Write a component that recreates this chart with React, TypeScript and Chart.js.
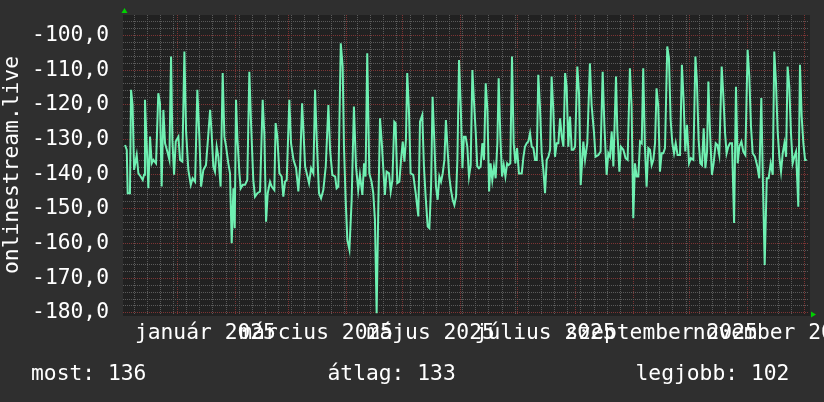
import React, { useEffect, useRef } from 'react';
import { Chart, registerables } from 'chart.js';

Chart.register(...registerables);

// days counted from 2024-12-01 (day 31 = 2025-01-01)
const dayOffsets: number[] = [
  3.2, 4.1, 4.6, 5.8, 6.4, 7.2, 8.0, 9.4, 10.3, 11.5,
  12.6, 13.3, 13.8, 14.7, 15.6, 16.5, 17.4, 18.3, 19.7, 20.9,
  21.8, 22.7, 23.6, 24.5, 25.7, 26.8, 27.7, 28.4, 29.3, 30.2,
  31.6, 32.5, 33.7, 34.8, 35.7, 36.9, 38.2, 39.2, 40.5, 41.7,
  42.8, 43.7, 44.9, 46.3, 47.6, 48.5, 49.3, 50.2, 51.1, 52.0,
  52.9, 54.1, 55.2, 56.1, 57.0, 58.2, 59.1, 60.0, 60.9, 61.6,
  62.3, 63.0, 64.1, 64.8, 65.9, 67.1, 68.3, 69.4, 70.3, 71.5,
  72.4, 73.7, 75.1, 76.5, 77.4, 78.3, 79.2, 80.4, 81.3, 82.7,
  83.4, 84.3, 85.4, 86.6, 87.5, 88.4, 89.3, 90.7, 91.6, 92.9,
  94.3, 95.5, 96.4, 97.5, 98.2, 99.1, 100.0, 101.2, 102.3, 103.5,
  104.4, 105.3, 106.5, 107.6, 108.8, 110.1, 111.5, 112.4, 113.6, 115.1,
  115.9, 116.8, 118.1, 119.1, 119.8, 120.7, 121.6, 122.7,
  123.9, 125.1, 126.2, 127.4, 128.3, 129.6, 130.5, 131.3, 132.2, 133.3,
  134.5, 135.4, 136.3, 137.2, 138.1, 139.0, 139.9, 140.8, 141.6, 142.5,
  143.8, 144.7, 145.6, 146.6, 147.3, 148.2, 149.3, 150.2, 151.1, 152.0,
  152.8, 153.5, 154.4, 155.3, 156.7, 158.0, 159.4, 160.3, 161.5, 162.4,
  163.3, 164.4, 165.3, 166.2, 167.0, 167.9, 168.8, 169.7, 170.6, 171.5,
  172.4, 173.3, 174.1, 175.0, 175.9, 176.8, 177.7, 178.6, 179.5, 180.2,
  181.1, 182.0, 182.9, 183.7, 184.6, 185.5, 186.4, 187.3, 188.2, 189.1,
  190.0, 190.8, 191.7, 192.6, 193.5, 194.4, 195.3, 196.2, 197.1, 197.9,
  198.8, 199.7, 200.6, 201.5, 202.2, 203.1, 204.0, 204.9, 205.8, 206.7,
  207.5, 208.4, 209.3, 210.2, 211.1, 212.0, 213.0, 214.5, 215.4, 216.2,
  217.1, 218.0, 218.9, 219.8, 220.7, 221.6, 222.5, 223.3, 224.2, 225.1,
  226.0, 226.9, 227.8, 228.7, 229.6, 230.4, 231.3, 232.2, 233.1, 234.0,
  234.9, 235.8, 236.7, 237.6, 238.4, 239.3, 240.2, 241.1, 242.0, 242.9,
  244.1, 245.0, 245.9,
  247.3, 248.2, 249.4, 250.8, 251.7, 253.0, 253.8, 255.3, 256.5, 257.6,
  258.5, 259.7, 260.6, 261.5, 262.4, 263.3, 264.7, 265.4, 266.5, 267.3,
  268.6, 269.8, 270.9, 272.1, 273.0, 273.9, 274.8, 275.7, 276.6, 277.5,
  278.4, 279.2, 280.1, 281.0, 281.9, 282.8, 283.7, 284.6, 285.5, 286.3,
  287.2, 288.1, 289.0, 289.9, 290.8, 292.0, 292.9, 293.8, 294.7, 295.6,
  296.5, 297.5, 298.8, 299.8, 300.7, 301.6, 302.5, 303.6, 304.6, 305.9,
  307.0, 307.8, 308.7, 309.6, 310.5, 311.4, 312.3, 313.2, 313.9, 314.8,
  315.8, 316.7, 317.8, 318.7, 319.7, 321.0, 321.9, 322.8, 323.6, 324.5,
  325.4, 326.5, 327.6, 328.6, 329.5, 330.4, 331.5, 332.5, 333.6, 334.8,
  335.7, 336.6, 337.5, 338.7, 340.0, 341.0, 342.1, 343.0, 343.9, 345.0,
  346.0, 347.1, 348.2, 349.0, 349.9, 350.8, 351.7, 352.6, 353.5, 354.4,
  355.3, 356.1, 357.0, 357.9, 358.8, 359.7, 360.6, 361.8, 362.7, 363.6,
  364.5, 365.4, 366.3,
];

// plotted value (negative rank)
const rankValues: number[] = [
  -131.6, -133.0, -145.5, -145.5, -115.7, -120.1, -138.8, -134.5, -139.8, -140.7,
  -141.7, -140.2, -118.6, -131.1, -144.1, -129.2, -136.9, -135.9, -136.9, -116.7,
  -119.6, -143.6, -121.5, -131.1, -133.5, -135.9, -106.1, -130.1, -140.2, -130.6,
  -129.2, -135.9, -136.4, -104.7, -127.7, -138.8, -143.1, -141.2, -142.2, -115.7,
  -129.7, -143.6, -138.8, -137.4, -128.2, -121.5, -128.2, -137.8, -139.3, -132.1,
  -135.0, -143.6, -110.9, -129.2, -132.1, -136.9, -139.8, -159.9, -144.1, -155.6,
  -118.6, -129.2, -139.8, -144.1, -143.1, -143.1, -141.7, -110.5, -125.3, -141.7,
  -146.5, -145.5, -145.0, -118.6, -128.7, -153.7, -145.5, -142.2, -143.6, -144.6,
  -125.3, -129.2, -139.8, -140.7, -146.5, -142.2, -141.7, -118.6, -131.1, -135.9,
  -138.3, -145.0, -137.8, -119.6, -127.3, -137.8, -139.8, -142.6, -138.3, -139.8,
  -115.7, -130.1, -145.5, -147.0, -144.6, -137.8, -120.1, -133.0, -140.2, -140.7,
  -144.1, -143.6, -102.3, -109.0, -132.1, -147.4, -159.0, -161.8,
  -147.4, -120.5, -137.8, -144.6, -140.2, -146.0, -136.9, -140.7, -105.2, -139.8,
  -142.2, -145.5, -153.2, -180.1, -149.4, -123.9, -130.6, -138.8, -146.0, -139.3,
  -139.8, -145.0, -141.7, -124.9, -125.3, -142.6, -142.2, -135.9, -130.6, -136.4,
  -130.1, -110.9, -121.5, -139.8, -140.2, -145.5, -152.2, -124.9, -123.0, -137.8,
  -146.5, -155.1, -155.6, -143.6, -117.7, -130.1, -143.6, -147.4, -140.7, -142.2,
  -139.8, -135.9, -124.4, -133.0, -140.7, -144.6, -147.4, -148.9, -146.5, -135.9,
  -107.1, -120.5, -138.3, -129.2, -129.2, -132.1, -140.7, -137.4, -110.0, -119.6,
  -128.2, -137.8, -138.3, -137.8, -131.1, -135.9, -113.8, -121.5, -145.0, -136.9,
  -141.7, -137.8, -141.2, -131.1, -112.4, -129.2, -140.7, -137.4, -140.7, -136.9,
  -137.4, -136.9, -106.1, -131.1, -136.9, -132.5, -139.8, -139.8, -135.0, -132.1,
  -131.1, -130.6, -128.2, -132.1, -132.5, -135.9, -135.9, -111.4, -120.5, -134.0,
  -138.8, -145.5, -135.9, -135.0, -133.0, -111.9, -121.5, -135.0, -131.1, -131.1,
  -123.9, -129.2, -132.1, -110.9, -114.8, -132.1, -123.4, -133.0, -133.0, -132.1,
  -109.0, -116.7, -143.1,
  -130.6, -135.9, -131.1, -108.1, -120.1, -128.2, -135.0, -134.5, -133.5, -110.5,
  -125.8, -140.2, -134.0, -135.0, -127.7, -137.8, -111.9, -127.3, -139.3, -132.1,
  -133.0, -135.4, -135.9, -109.5, -120.5, -152.7, -136.9, -140.7, -140.7, -130.6,
  -131.1, -109.5, -132.1, -143.6, -132.5, -133.0, -137.4, -135.9, -131.1, -115.3,
  -120.5, -139.3, -134.0, -134.0, -132.5, -103.2, -106.6, -124.4, -131.1, -134.0,
  -131.1, -134.5, -134.5, -108.5, -118.6, -133.5, -125.8, -136.9, -135.4, -135.9,
  -106.1, -113.3, -130.1, -136.9, -137.4, -126.8, -138.3, -133.5, -113.3, -128.2,
  -140.2, -136.9, -131.1, -131.6, -134.5, -109.0, -117.7, -128.2, -134.0, -132.1,
  -131.1, -131.1, -154.1, -114.8, -136.9, -132.1, -130.6, -133.5, -134.5, -104.2,
  -111.9, -126.3, -134.0, -135.0, -137.8, -141.2, -118.1, -143.6, -166.2, -141.2,
  -141.2, -136.9, -140.2, -104.7, -113.3, -127.7, -135.0, -139.3, -134.0, -131.1,
  -135.0, -109.0, -114.8, -128.2, -136.9, -135.0, -133.5, -149.4, -108.5, -123.4,
  -131.1, -135.9, -135.9,
];

// month starts (days since 2024-12-01) for major grid lines
const monthStarts: number[] = [31, 62, 90, 121, 151, 182, 212, 243, 274, 304, 335, 365];
// month labels, placed mid-month
const monthLabelDays: number[] = [46, 105, 166, 227, 289, 350];
const monthLabels: string[] = [
  'január 2025', 'március 2025', 'május 2025', 'július 2025', 'szeptember 2025', 'november 2025',
];
const firstMonday = 1; // 2024-12-02
const xRange: number[] = [2.1, 367.5];
const yRange: number[] = [-180.6, -94.15];
const yMinorStep = 2;
const yMajorStep = 10;
const yAxisTitle = 'onlinestream.live';
const footerTexts: string[] = ['most: 136', 'átlag: 133', 'legjobb: 102'];

const FONT_FAMILY = "'DejaVu Sans Mono', 'Liberation Mono', monospace";
const FONT_SIZE = 21.3;
const BG = '#2f2f2f';
const PLOT_BG = '#212121';
const GRID_MINOR = '#5a5a5a';
const GRID_MAJOR = '#7d3434';
const LINE = '#6ff0b2';
const TEXT = '#ffffff';
const ARROW = '#00d000';

export default function App() {
  const canvasRef = useRef<HTMLCanvasElement | null>(null);

  useEffect(() => {
    document.body.style.margin = '0';
    document.body.style.background = BG;
    const canvas = canvasRef.current;
    if (!canvas) return;

    const mondays: number[] = [];
    for (let d = firstMonday; d <= xRange[1]; d += 7) if (d >= xRange[0]) mondays.push(d);
    const majors = monthStarts.filter((d) => d >= xRange[0] && d <= xRange[1]);
    const xTicks = Array.from(new Set([...mondays, ...majors, ...monthLabelDays])).sort((a, b) => a - b);

    const yTicks: number[] = [];
    for (let v = Math.ceil(yRange[0] / yMinorStep) * yMinorStep; v <= yRange[1]; v += yMinorStep) yTicks.push(v);

    const points = dayOffsets.map((d, i) => ({ x: d, y: rankValues[i] })).filter((p) => p.y !== undefined);

    const bgPlugin = {
      id: 'bgPlugin',
      beforeDraw(chart: any) {
        const { ctx, chartArea } = chart;
        ctx.save();
        ctx.fillStyle = BG;
        ctx.fillRect(0, 0, chart.width, chart.height);
        ctx.fillStyle = PLOT_BG;
        ctx.fillRect(chartArea.left, chartArea.top, chartArea.right - chartArea.left + 1, chartArea.bottom - chartArea.top + 1);
        ctx.restore();
      },
      afterDraw(chart: any) {
        const { ctx, chartArea } = chart;
        ctx.save();
        ctx.fillStyle = ARROW;
        const ax = chartArea.left + 1.5;
        ctx.beginPath();
        ctx.moveTo(ax - 3, chartArea.top - 2);
        ctx.lineTo(ax + 3, chartArea.top - 2);
        ctx.lineTo(ax, chartArea.top - 7);
        ctx.closePath();
        ctx.fill();
        const ay = chartArea.bottom - 0.5;
        ctx.beginPath();
        ctx.moveTo(chartArea.right + 2, ay - 3);
        ctx.lineTo(chartArea.right + 2, ay + 3);
        ctx.lineTo(chartArea.right + 7, ay);
        ctx.closePath();
        ctx.fill();

        ctx.fillStyle = TEXT;
        ctx.font = `${FONT_SIZE}px ${FONT_FAMILY}`;
        ctx.textBaseline = 'alphabetic';
        ctx.textAlign = 'left';
        const xs = [31, 327.5, 635.5];
        footerTexts.forEach((t, i) => ctx.fillText(t, xs[i], 380));
        ctx.restore();
      },
    };

    const chart = new Chart(canvas, {
      type: 'line',
      data: {
        datasets: [
          {
            data: points,
            borderColor: LINE,
            borderWidth: 2,
            pointRadius: 0,
            tension: 0,
            fill: false,
          },
        ],
      },
      options: {
        animation: false,
        responsive: false,
        devicePixelRatio: 1,
        parsing: true,
        layout: { autoPadding: false, padding: { top: 15, right: 15, bottom: 47, left: 0 } },
        plugins: { legend: { display: false }, tooltip: { enabled: false }, title: { display: false } },
        scales: {
          x: {
            type: 'linear',
            bounds: 'data',
            min: xRange[0],
            max: xRange[1],
            afterBuildTicks: (scale: any) => {
              scale.ticks = xTicks.map((v) => ({ value: v }));
            },
            afterFit: (scale: any) => {
              scale.height = 40;
              scale.paddingLeft = 0;
              scale.paddingRight = 0;
            },
            grid: {
              drawTicks: false,
              lineWidth: 1,
              color: (ctx: any) => {
                const v = ctx.tick ? ctx.tick.value : NaN;
                if (majors.includes(v)) return GRID_MAJOR;
                if (mondays.includes(v)) return GRID_MINOR;
                return 'rgba(0,0,0,0)';
              },
            },
            border: { display: false, dash: [1, 1] },
            ticks: {
              autoSkip: false,
              maxRotation: 0,
              minRotation: 0,
              padding: 6,
              color: TEXT,
              font: { family: FONT_FAMILY, size: FONT_SIZE },
              callback: (value: any) => {
                const i = monthLabelDays.indexOf(Number(value));
                return i >= 0 ? monthLabels[i] : '';
              },
            },
          },
          y: {
            type: 'linear',
            bounds: 'data',
            min: yRange[0],
            max: yRange[1],
            afterBuildTicks: (scale: any) => {
              scale.ticks = yTicks.map((v) => ({ value: v }));
            },
            afterFit: (scale: any) => {
              scale.width = 123;
              scale.paddingTop = 0;
              scale.paddingBottom = 0;
            },
            grid: {
              drawTicks: false,
              lineWidth: 1,
              color: (ctx: any) => {
                const v = ctx.tick ? ctx.tick.value : NaN;
                return v % yMajorStep === 0 ? GRID_MAJOR : GRID_MINOR;
              },
            },
            border: { display: false, dash: [1, 1] },
            title: {
              display: true,
              text: yAxisTitle,
              color: TEXT,
              padding: 0,
              font: { family: FONT_FAMILY, size: FONT_SIZE },
            },
            ticks: {
              autoSkip: false,
              padding: 14,
              color: TEXT,
              font: { family: FONT_FAMILY, size: FONT_SIZE },
              callback: (value: any) => {
                const v = Number(value);
                return v % yMajorStep === 0 ? v.toFixed(1).replace('.', ',') : '';
              },
            },
          },
        },
      },
      plugins: [bgPlugin],
    } as any);

    return () => chart.destroy();
  }, []);

  return (
    <div style={{ width: 824, height: 402, background: BG }}>
      <canvas ref={canvasRef} width={824} height={402} style={{ display: 'block' }} />
    </div>
  );
}
